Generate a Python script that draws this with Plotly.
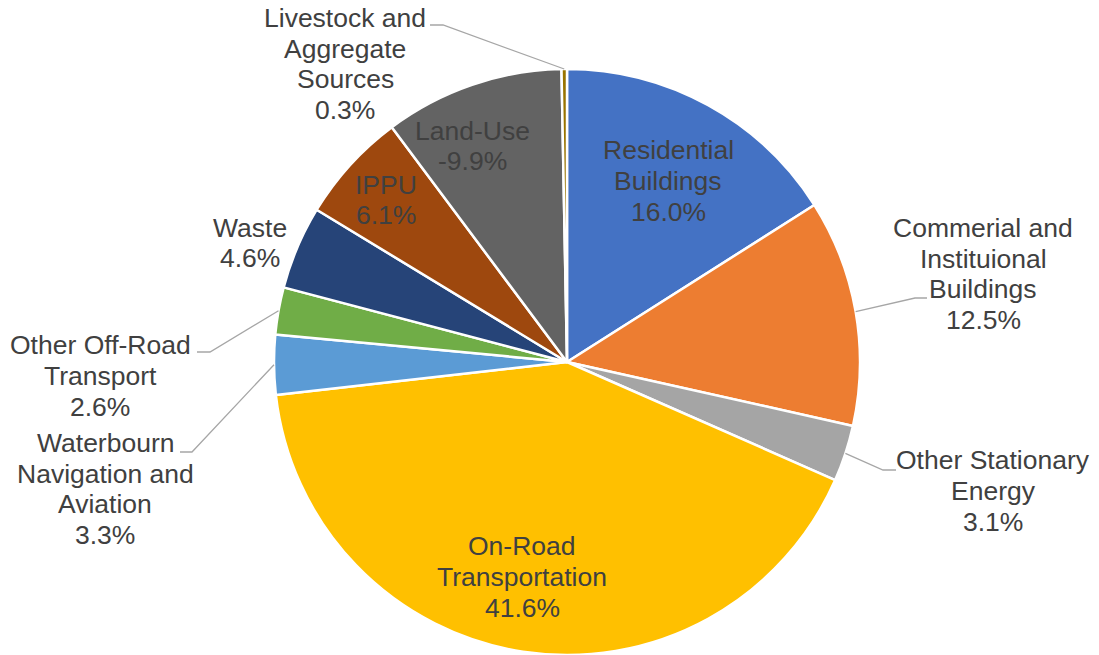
import math
import plotly.graph_objects as go

# ---- data ----
categories = ["Residential Buildings", "Commerial and Instituional Buildings",
              "Other Stationary Energy", "On-Road Transportation",
              "Waterbourn Navigation and Aviation", "Other Off-Road Transport",
              "Waste", "IPPU", "Land-Use", "Livestock and Aggregate Sources"]
shares = [16.0, 12.5, 3.1, 41.6, 3.3, 2.6, 4.6, 6.1, -9.9, 0.3]
label_lines = [["Residential", "Buildings"],
               ["Commerial and", "Instituional", "Buildings"],
               ["Other Stationary", "Energy"],
               ["On-Road", "Transportation"],
               ["Waterbourn", "Navigation and", "Aviation"],
               ["Other Off-Road", "Transport"],
               ["Waste"],
               ["IPPU"],
               ["Land-Use"],
               ["Livestock and", "Aggregate", "Sources"]]
colors = ["#4472C4", "#ED7D31", "#A5A5A5", "#FFC000", "#5B9BD5",
          "#70AD47", "#264478", "#9E480E", "#636363", "#997300"]

# ---- layout constants (pixels) ----
W, H = 1099, 655
CX, CY, R = 567, 362, 293
# label centres (px) and leader line elbow/end (None = no leader)
label_pos = [(668, 181), (983, 274), (993, 491), (522, 577), (105, 489),
             (100, 376), (250, 243), (386, 200), (472, 146), (345, 64)]
leaders = [None, [(915, 298), (927, 298)], [(883, 470), (896, 470)], None,
           [(192, 452), (180, 452)], [(210, 352), (197, 352)], None, None, None,
           [(443, 25), (430, 25)]]
FS = 26.5
LS = 30.8
TXT = "#404040"

def px(x):
    return x / W

def py(y):
    return 1 - y / H

dom_y = [0, 2 * R / H]
dom_x = [(CX - R - 4) / W, (CX + R + 4) / W]

fig = go.Figure(go.Pie(
    labels=categories,
    values=[abs(s) for s in shares],
    sort=False,
    direction="clockwise",
    rotation=0,
    marker=dict(colors=colors, line=dict(color="white", width=2.5)),
    textinfo="none",
    hoverinfo="label+text",
    text=[f"{s:.1f}%" for s in shares],
    domain=dict(x=dom_x, y=dom_y),
    showlegend=False,
))

total = sum(abs(s) for s in shares)
annotations = []
shapes = []
cum = 0.0
for i, s in enumerate(shares):
    mid = (cum + abs(s) / 2) / total * 2 * math.pi
    cum += abs(s)
    lines = label_lines[i] + [f"{s:.1f}%"]
    lx, ly = label_pos[i]
    n = len(lines)
    for j, t in enumerate(lines):
        yy = ly + (j - (n - 1) / 2) * LS
        annotations.append(dict(x=px(lx), y=py(yy), xref="paper", yref="paper",
                                text=t, showarrow=False, xanchor="center",
                                yanchor="middle",
                                font=dict(family="Liberation Sans, Arial", size=FS, color=TXT)))
    if leaders[i]:
        ex = CX + R * math.sin(mid)
        ey = CY - R * math.cos(mid)
        pts = [(ex, ey)] + leaders[i]
        path = "M " + " L ".join(f"{px(a)},{py(b)}" for a, b in pts)
        shapes.append(dict(type="path", xref="paper", yref="paper", path=path,
                           line=dict(color="#A6A6A6", width=1.3)))

fig.update_layout(width=W, height=H, margin=dict(l=0, r=0, t=0, b=0),
                  paper_bgcolor="white", plot_bgcolor="white",
                  annotations=annotations, shapes=shapes)
fig.write_html("out.html", config={"displayModeBar": False},
               post_script="document.body.style.margin='0';document.body.style.overflow='hidden';")
